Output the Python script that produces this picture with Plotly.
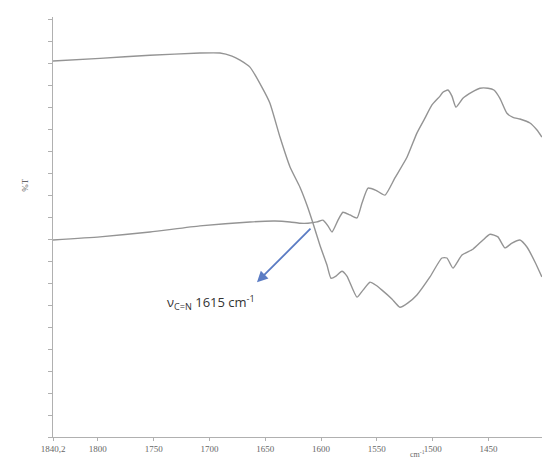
import plotly.graph_objects as go

# Spectrum 1 (starts high, drops around 1650 cm-1)
wn_a = [1840.2, 1798.1, 1753.3, 1708.5, 1690.6, 1679.8, 1672.6, 1663.7, 1652.9, 1645.8,
        1636.8, 1627.8, 1618.9, 1612.6, 1607.2, 1601.0, 1594.7, 1591.1, 1586.6, 1581.3,
        1576.8, 1567.8, 1562.4, 1556.2, 1550.8, 1545.4, 1536.5, 1529.3, 1522.1, 1514.1,
        1502.4, 1491.7, 1487.2, 1481.8, 1473.7, 1463.9, 1454.9, 1448.6, 1441.5, 1435.2,
        1428.9, 1421.8, 1415.5, 1408.3, 1402.1]
t_a = [85.5, 86.1, 86.8, 87.3, 87.3, 86.6, 85.7, 84.1, 79.5, 75.9,
       68.2, 61.4, 56.8, 52.7, 48.6, 43.6, 39.1, 36.1, 36.6, 37.7,
       36.6, 31.8, 33.4, 35.2, 34.5, 33.4, 31.4, 29.5, 30.5, 32.3,
       36.4, 40.7, 40.7, 38.4, 41.4, 42.7, 44.8, 46.1, 45.5, 43.0,
       44.1, 44.8, 43.2, 39.8, 36.4]

# Spectrum 2 (starts low, rises after 1600 cm-1)
wn_b = [1840.2, 1798.1, 1753.3, 1708.5, 1663.7, 1641.3, 1627.8, 1618.9, 1611.7, 1603.6,
        1598.3, 1593.8, 1590.2, 1584.8, 1580.4, 1574.1, 1567.8, 1563.3, 1557.9, 1550.8,
        1542.7, 1533.8, 1523.0, 1514.1, 1506.9, 1500.6, 1493.4, 1490.8, 1486.3, 1482.7,
        1479.1, 1472.9, 1464.8, 1457.6, 1450.4, 1445.1, 1439.7, 1433.4, 1428.0, 1421.8,
        1412.8, 1406.5, 1402.1]
t_b = [44.8, 45.5, 46.6, 48.0, 48.9, 49.1, 48.9, 48.6, 48.6, 48.9,
       49.3, 48.0, 46.6, 49.3, 51.1, 50.5, 49.8, 53.2, 56.6, 56.1,
       55.0, 58.9, 63.6, 69.1, 72.5, 75.5, 77.5, 78.4, 78.9, 77.5,
       75.0, 77.0, 78.4, 79.3, 79.3, 78.9, 77.0, 73.6, 72.7, 72.3,
       71.4, 69.8, 68.2]

x_tickvals = [1840.2, 1800, 1750, 1700, 1650, 1600, 1550, 1500, 1450]
x_ticktext = ["1840,2", "1800", "1750", "1700", "1650", "1600", "1550", "1500", "1450"]
y_tickvals = list(range(0, 100, 5))

# annotation anchor (peak position) and label position
arrow_tail = (1608.1, 47.7)
arrow_head = (1657.4, 35.2)
label_pos = (1698.6, 30.5)
label_text = "ν<sub>C=N</sub> 1615 cm<sup>-1</sup>"

line_style = dict(color="#949494", width=1.4, shape="spline", smoothing=0.5)

fig = go.Figure()
fig.add_trace(go.Scatter(x=wn_a, y=t_a, mode="lines", line=line_style, showlegend=False,
                         hoverinfo="skip"))
fig.add_trace(go.Scatter(x=wn_b, y=t_b, mode="lines", line=line_style, showlegend=False,
                         hoverinfo="skip"))

fig.add_annotation(x=arrow_head[0], y=arrow_head[1], ax=arrow_tail[0], ay=arrow_tail[1],
                   xref="x", yref="y", axref="x", ayref="y", text="",
                   showarrow=True, arrowhead=2, arrowsize=1.2, arrowwidth=1.8,
                   arrowcolor="#5b7cc4")
fig.add_annotation(x=label_pos[0], y=label_pos[1], xref="x", yref="y",
                   text=label_text, showarrow=False,
                   font=dict(family="Open Sans, Liberation Sans, sans-serif", size=13, color="#333333"))
fig.add_annotation(x=-0.072, y=0.6, xref="paper", yref="paper", text="%T",
                   showarrow=False, textangle=-90,
                   font=dict(family="Liberation Serif, serif", size=9, color="#666666"))
fig.add_annotation(x=0.765, y=-0.056, xref="paper", yref="paper", text="cm<sup>-1</sup>",
                   showarrow=False,
                   font=dict(family="Liberation Serif, serif", size=8, color="#666666"))

fig.update_layout(
    width=542, height=466,
    margin=dict(l=53, r=0, t=17, b=29),
    paper_bgcolor="white", plot_bgcolor="white",
    hovermode=False,
    xaxis=dict(range=[1840.2, 1402.0], tickvals=x_tickvals, ticktext=x_ticktext,
               showgrid=False, zeroline=False, showline=True, linecolor="#b0b0b0",
               linewidth=1, ticks="outside", ticklen=3, tickcolor="#b0b0b0",
               tickfont=dict(family="Liberation Serif, serif", size=9, color="#666666")),
    yaxis=dict(range=[0, 95.5], tickvals=y_tickvals, showticklabels=False,
               showgrid=False, zeroline=False, showline=True, linecolor="#b0b0b0",
               linewidth=1, ticks="outside", ticklen=4, tickcolor="#b0b0b0"),
)

fig.write_html("out.html", config={"displayModeBar": False},
               post_script="document.body.style.margin='0';document.body.style.overflow='hidden';")
